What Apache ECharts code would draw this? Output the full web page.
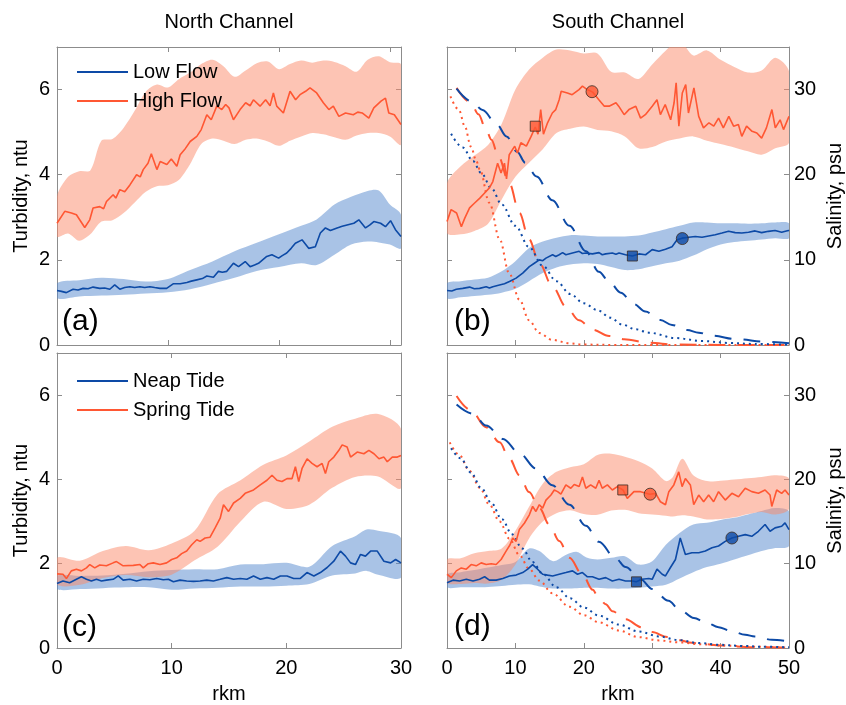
<!DOCTYPE html>
<html>
<head>
<meta charset="utf-8">
<script src="https://cdn.jsdelivr.net/npm/echarts@6/dist/echarts.min.js"></script>
<style>
  html, body { margin: 0; background: #fff; }
  #chart { width: 846px; height: 705px; }
</style>
</head>
<body>
<div id="chart"></div>
<script>
// ---------- data (rkm, turbidity ntu) / (rkm, lower, upper) / (rkm, salinity psu) ----------
// (a) North Channel, low / high flow
const aLowMean = [[0,1.28],[0.4,1.26],[0.84,1.23],[1.45,1.31],[1.9,1.29],[2.35,1.33],[2.8,1.32],[3.25,1.36],[3.86,1.33],[4.3,1.34],[4.76,1.31],[5.2,1.41],[5.66,1.31],[6.1,1.35],[6.57,1.37],[7.0,1.35],[7.47,1.37],[7.9,1.35],[8.37,1.37],[8.8,1.35],[9.28,1.33],[9.88,1.33],[10.5,1.44],[11.1,1.44],[11.7,1.47],[12.1,1.5],[12.6,1.53],[13.1,1.56],[13.5,1.62],[14.1,1.59],[14.55,1.73],[14.9,1.71],[15.3,1.73],[15.9,1.92],[16.36,1.84],[16.96,1.96],[17.4,1.84],[17.8,1.88],[18.16,1.92],[18.9,2.08],[19.37,2.12],[19.97,2.04],[20.3,2.1],[20.7,2.16],[21.1,2.27],[21.48,2.39],[22.08,2.47],[22.68,2.27],[23.28,2.31],[23.73,2.63],[24.19,2.75],[24.64,2.69],[25.24,2.75],[25.7,2.79],[26.14,2.82],[26.75,2.86],[27.2,2.94],[27.8,2.75],[28.2,2.82],[28.55,2.9],[29.16,2.86],[29.6,2.78],[30.06,2.92],[30.5,2.71],[31,2.55]];
const aLowBand = [[0,1.1,1.45],[2,1.14,1.52],[4,1.16,1.58],[6,1.18,1.55],[8,1.21,1.49],[10,1.24,1.55],[12,1.31,1.76],[14,1.44,1.96],[16,1.58,2.2],[18,1.74,2.4],[20,1.83,2.6],[22,1.92,2.8],[23.4,1.88,2.95],[25,2.12,3.3],[26.5,2.36,3.48],[28,2.43,3.62],[29,2.41,3.63],[30,2.36,3.3],[31,2.27,3.06]];
const aHighMean = [[0,2.86],[0.7,3.14],[1.3,3.1],[1.75,3.06],[2.5,2.76],[2.95,2.94],[3.25,3.22],[3.85,3.25],[4.2,3.2],[4.46,3.37],[5.06,3.53],[5.3,3.45],[5.66,3.65],[6.1,3.6],[6.57,3.76],[7.17,4.0],[7.5,3.95],[7.77,4.12],[8.2,4.27],[8.5,4.49],[9.0,4.12],[9.3,4.31],[9.9,4.24],[10.3,4.37],[10.8,4.2],[11.1,4.47],[11.5,4.59],[12.0,4.78],[12.6,4.9],[13.0,5.06],[13.5,5.41],[13.9,5.29],[14.4,5.61],[14.85,5.53],[15.2,5.65],[15.5,5.57],[15.9,5.29],[16.5,5.53],[17.0,5.69],[17.4,5.62],[17.7,5.76],[18.3,5.61],[18.8,5.76],[19.2,5.62],[19.5,5.92],[19.8,5.61],[20.4,5.45],[21.0,5.96],[21.5,5.76],[21.9,5.88],[22.4,5.96],[22.8,6.04],[23.4,5.92],[24.0,5.69],[24.5,5.53],[24.9,5.61],[25.4,5.37],[26.0,5.45],[26.7,5.41],[27.1,5.47],[27.5,5.45],[28.1,5.33],[28.55,5.57],[29.2,5.73],[29.6,5.8],[29.9,5.45],[30.4,5.41],[31,5.18]];
const aHighBand = [[0,2.55,3.49],[1,2.62,3.95],[2,2.45,4.08],[3,2.6,4.1],[4,2.9,4.8],[5,2.93,4.84],[6,3.1,5.1],[7,3.35,5.5],[8,3.6,5.95],[9,3.73,6.12],[10,3.75,6.05],[11,3.88,6.25],[12,4.25,6.4],[13,4.72,6.6],[14,4.85,6.7],[15,4.8,6.55],[16,4.72,6.3],[17,4.82,6.45],[18,4.85,6.62],[19,4.78,6.66],[20,4.68,6.48],[21,4.8,6.6],[22,4.9,6.68],[23,4.98,6.63],[24,4.95,6.68],[25,4.88,6.65],[26,4.82,6.55],[27,4.92,6.42],[28,4.98,6.7],[29,4.98,6.78],[30,4.9,6.64],[31,4.71,6.59]];

// (b) South Channel, low / high flow
const bLowMean = [[0,1.28],[0.7,1.27],[1.36,1.31],[2.3,1.33],[3.3,1.36],[4.0,1.32],[4.76,1.33],[5.73,1.37],[6.2,1.34],[6.7,1.37],[7.67,1.41],[8.4,1.44],[9.13,1.49],[10.1,1.57],[11.07,1.69],[12.04,1.84],[12.77,1.92],[13.5,2.0],[14.0,1.98],[14.47,2.04],[15.44,2.12],[15.9,2.08],[16.4,2.12],[16.9,2.17],[17.38,2.12],[18.35,2.16],[19.32,2.2],[19.8,2.15],[20.3,2.16],[21.26,2.14],[22.23,2.17],[22.7,2.12],[23.2,2.14],[24.17,2.16],[24.7,2.13],[25.15,2.16],[26.1,2.12],[27.1,2.09],[28.06,2.14],[29.03,2.12],[30.0,2.24],[30.97,2.2],[31.94,2.25],[32.9,2.31],[33.64,2.47],[34.37,2.51],[35.34,2.53],[36.3,2.55],[37.28,2.53],[38.25,2.56],[39.22,2.59],[40.2,2.63],[41.17,2.67],[42.13,2.64],[43.1,2.63],[44.08,2.65],[45.05,2.68],[46.0,2.64],[47.0,2.67],[47.96,2.69],[48.93,2.65],[49.9,2.69],[50,2.68]];
const bLowBand = [[0,1.1,1.45],[2,1.12,1.5],[4,1.15,1.54],[6,1.18,1.58],[8,1.23,1.73],[10,1.32,1.97],[12,1.5,2.28],[14,1.69,2.43],[16,1.82,2.52],[18,1.89,2.58],[20,1.92,2.57],[22,1.9,2.55],[24,1.83,2.55],[26,1.76,2.55],[28,1.78,2.57],[30,1.85,2.64],[32,1.92,2.72],[34,1.98,2.8],[36,2.1,2.88],[38,2.25,2.88],[40,2.36,2.86],[42,2.42,2.86],[44,2.45,2.85],[46,2.48,2.86],[48,2.51,2.88],[50,2.51,2.86]];
const bHighMean = [[0,2.9],[0.6,3.18],[1.4,3.1],[2.1,2.78],[2.6,2.98],[3.3,3.22],[4.0,3.33],[4.8,3.45],[5.5,3.57],[6.2,3.69],[6.7,3.84],[7.4,4.27],[7.9,4.04],[8.4,4.27],[8.7,3.9],[9.1,4.47],[9.9,4.67],[10.3,4.51],[10.8,4.75],[11.6,4.67],[12.3,4.9],[12.9,5.12],[13.3,4.95],[13.7,5.53],[14.1,4.95],[14.7,5.22],[15.4,5.45],[15.9,5.53],[16.4,5.76],[16.7,5.96],[17.6,5.92],[18.3,5.88],[19.3,6.0],[19.8,6.08],[20.5,6.0],[21.3,5.94],[22.2,5.76],[23.0,5.61],[23.7,5.61],[24.7,5.69],[25.1,5.61],[25.9,5.41],[26.6,5.53],[27.6,5.61],[28.3,5.33],[29.0,5.41],[30.0,5.61],[30.7,5.76],[31.2,5.41],[31.9,5.65],[32.7,5.29],[33.2,5.69],[33.5,6.16],[33.9,5.14],[34.4,5.92],[34.9,6.12],[35.3,5.45],[36.1,6.04],[36.8,5.37],[37.5,5.1],[38.3,5.22],[39.0,5.14],[39.7,5.33],[40.4,5.1],[41.2,5.37],[41.9,5.14],[42.6,5.18],[43.1,4.9],[43.8,5.14],[44.6,5.02],[45.3,4.98],[46.0,4.86],[46.7,5.1],[47.5,5.53],[48.0,5.1],[48.7,5.29],[49.2,5.06],[50,5.37]];
const bHighBand = [[0,2.63,3.8],[2,2.6,4.2],[4,2.68,4.45],[6,2.85,4.7],[8,3.42,5.2],[10,3.95,6.0],[12,4.28,6.47],[14,4.6,6.75],[16,4.98,6.94],[18,5.08,6.92],[20,5.13,6.85],[22,5.05,6.85],[24,5.02,6.42],[26,4.9,6.4],[28,4.62,6.25],[30,4.65,6.59],[32,4.78,6.92],[34,4.85,7.15],[36,4.9,6.8],[38,4.8,6.92],[40,4.72,6.7],[42,4.64,6.53],[44,4.55,6.4],[46,4.47,6.45],[48,4.62,6.75],[50,4.75,6.43]];
const bSalHighDash = [[1.4,30.2],[3.45,28.5],[4.6,27.1],[5.7,25.3],[6.5,24.1],[7.5,22.15],[9.1,19.0],[10.6,15.5],[12,12.4],[13.5,9.6],[15.4,6.9],[17.4,4.5],[19.3,2.9],[21.3,1.8],[23.7,1.06],[25.9,0.67],[29.5,0.27],[33.4,0.05],[40,0.01],[50,0]];
const bSalHighDot = [[0.5,29.2],[1.75,27.6],[2.6,25.7],[3.5,23.3],[4.3,21.6],[4.8,20.6],[6.2,16.7],[7.7,12.4],[9.1,8.4],[10.6,5.3],[12,2.9],[13.5,1.4],[15.4,0.6],[17.9,0.2],[20,0.05],[25,0],[50,0]];
const bSalLowDash = [[1.4,30.1],[3.6,28.6],[5.2,27.6],[7.3,25.9],[8.7,24.5],[10.25,22.7],[11.45,21.4],[13.1,19.8],[15.4,17.0],[17.9,14.0],[20.3,11.0],[22.2,8.6],[23.7,7.45],[25.4,6.15],[27.3,4.82],[29,3.92],[31.2,2.94],[32.9,2.35],[35.1,1.76],[36.8,1.45],[38.7,1.1],[42.4,0.67],[46.5,0.39],[50,0.2]];
const bSalLowDot = [[0.6,24.8],[2.3,23.2],[3.8,21.6],[5,20.2],[6.5,18.4],[8,16.5],[10,14.0],[12,11.5],[14,9.3],[16,7.5],[18,6.0],[20,4.9],[22,4.1],[23.9,3.2],[25.6,2.4],[27.6,1.84],[29.5,1.45],[33.4,0.82],[37.3,0.47],[41.2,0.24],[45,0.12],[50,0.04]];
const bHighSquare = [12.9, 5.14];
const bHighCircle = [21.2, 5.95];
const bLowSquare = [27.1, 2.09];
const bLowCircle = [34.4, 2.5];

// (c) North Channel, neap / spring tide
const cNeapMean = [[0,1.53],[0.52,1.59],[1.1,1.55],[1.69,1.63],[2.13,1.69],[2.57,1.63],[3.0,1.59],[3.44,1.63],[3.88,1.59],[4.31,1.61],[4.9,1.63],[5.34,1.71],[5.77,1.61],[6.36,1.63],[6.94,1.59],[7.52,1.63],[8.1,1.62],[8.69,1.65],[9.27,1.62],[9.71,1.63],[10.15,1.57],[10.73,1.61],[11.31,1.59],[11.9,1.58],[12.48,1.59],[13.06,1.61],[13.64,1.59],[14.23,1.63],[14.81,1.67],[15.4,1.63],[15.98,1.65],[16.56,1.63],[17.14,1.71],[17.73,1.63],[18.31,1.67],[18.9,1.63],[19.48,1.71],[20.06,1.71],[20.64,1.65],[21.22,1.65],[21.8,1.79],[22.4,1.71],[22.97,1.79],[23.56,1.91],[24.14,2.06],[24.72,2.3],[25.16,2.18],[25.6,2.02],[26.03,1.98],[26.47,2.22],[26.9,2.18],[27.35,2.3],[27.93,2.3],[28.51,2.06],[29.1,2.02],[29.53,2.1],[30,2.02]];
const cNeapBand = [[0,1.4,1.71],[2,1.4,1.71],[4,1.42,1.72],[6,1.44,1.76],[8,1.44,1.82],[10,1.38,1.85],[12,1.41,1.87],[14,1.43,1.87],[16,1.46,1.98],[18,1.46,1.99],[20,1.48,2.02],[22,1.52,1.93],[24,1.72,2.42],[26,1.77,2.65],[27,1.83,2.81],[28,1.74,2.78],[30,1.67,2.61]];
const cSpringMean = [[0,1.76],[0.52,1.75],[0.82,1.65],[1.25,1.83],[1.69,1.87],[2.13,1.83],[2.57,1.9],[2.86,1.98],[3.29,1.9],[3.73,1.97],[4.31,1.95],[4.9,2.02],[5.19,2.05],[5.77,1.95],[6.65,1.96],[7.23,1.98],[7.52,1.9],[7.96,2.0],[8.4,2.02],[8.98,1.98],[9.56,2.02],[10.0,2.1],[10.44,2.14],[10.87,2.24],[11.31,2.3],[11.75,2.45],[12.19,2.57],[12.48,2.53],[12.92,2.61],[13.35,2.63],[13.79,2.85],[14.23,3.08],[14.52,3.4],[14.96,3.24],[15.4,3.44],[15.98,3.55],[16.41,3.67],[17.14,3.75],[17.73,3.87],[18.31,3.98],[18.75,4.1],[19.18,3.98],[19.62,3.95],[20.06,4.02],[20.5,4.02],[20.79,4.3],[21.08,3.95],[21.37,4.26],[21.81,4.49],[22.24,4.38],[22.68,4.3],[23.12,4.38],[23.41,4.14],[23.7,4.42],[24.14,4.53],[24.58,4.69],[24.87,4.82],[25.3,4.77],[25.6,4.53],[26.18,4.65],[26.76,4.61],[27.2,4.69],[27.64,4.61],[28.08,4.49],[28.51,4.53],[28.8,4.42],[29.24,4.53],[29.68,4.53],[30,4.57]];
const cSpringBand = [[0,1.51,2.14],[2,1.5,2.07],[4,1.66,2.3],[6,1.73,2.42],[8,1.68,2.32],[10,1.74,2.48],[12,2.08,2.78],[14,2.4,3.65],[16,3.0,3.98],[18,3.47,4.35],[20,3.3,4.57],[22,3.4,4.9],[24,3.8,5.25],[26,4.06,5.44],[28,4.07,5.55],[30,3.79,5.2]];

// (d) South Channel, neap / spring tide
const dNeapMean = [[0,1.55],[0.87,1.61],[1.84,1.59],[2.82,1.63],[3.8,1.59],[4.76,1.63],[5.5,1.69],[6.2,1.61],[7.18,1.61],[8.16,1.65],[9.13,1.71],[10.1,1.73],[11.07,1.79],[11.8,1.87],[12.52,1.98],[13.25,1.87],[13.98,1.75],[14.7,1.73],[15.44,1.71],[16.4,1.75],[17.38,1.79],[18.35,1.83],[19.08,1.75],[19.8,1.79],[20.53,1.69],[21.26,1.69],[22.23,1.63],[23.2,1.67],[24.17,1.59],[25.15,1.63],[26.1,1.59],[27.1,1.59],[27.67,1.57],[28.5,1.63],[29.5,1.65],[30.0,1.63],[30.7,1.87],[31.46,1.75],[31.94,1.71],[32.67,1.91],[33.4,2.1],[34.1,2.61],[34.85,2.22],[35.8,2.26],[36.8,2.26],[37.77,2.3],[38.74,2.38],[39.7,2.42],[40.68,2.53],[41.65,2.61],[42.62,2.65],[43.6,2.69],[44.56,2.65],[45.53,2.77],[46.5,2.93],[47.23,2.77],[47.96,2.85],[48.93,2.89],[49.42,2.97],[50,2.81]];
const dNeapBand = [[0,1.44,1.75],[2,1.44,1.8],[4,1.44,1.85],[6,1.45,1.91],[8,1.47,1.97],[10,1.5,2.04],[12,1.51,2.36],[13.5,1.46,2.3],[15.5,1.41,2.06],[17.5,1.41,2.22],[19,1.42,2.28],[20.5,1.43,2.14],[22,1.43,2.1],[24,1.41,2.14],[26,1.41,2.18],[28,1.43,1.98],[30,1.46,2.06],[32,1.5,2.45],[34,1.65,2.73],[36,1.8,2.93],[38,1.92,2.97],[40,2.0,3.04],[42,2.1,3.09],[44,2.2,3.17],[46,2.3,3.25],[48,2.37,3.32],[50,2.42,3.24]];
const dSpringMean = [[0,1.75],[0.63,1.67],[1.36,1.83],[2.09,1.9],[2.82,1.87],[3.54,1.98],[4.27,1.95],[5.0,2.02],[5.73,1.98],[6.46,2.0],[7.18,1.98],[7.91,2.1],[8.64,2.3],[9.22,2.45],[9.61,2.61],[10.1,2.53],[10.58,2.81],[11.31,2.96],[12.04,3.16],[12.52,3.36],[13.0,3.24],[13.5,3.4],[13.98,3.32],[14.47,3.51],[15.2,3.63],[15.68,3.75],[16.17,3.71],[16.65,3.65],[17.38,3.87],[18.1,3.79],[18.6,3.88],[19.32,3.83],[19.8,4.06],[20.3,3.79],[21.0,3.87],[21.75,3.79],[22.23,3.98],[22.7,3.79],[23.45,3.87],[24.17,3.75],[24.9,3.83],[25.73,3.75],[26.36,3.55],[27.33,3.71],[28.3,3.71],[29.66,3.65],[30.5,3.67],[31.2,3.47],[31.94,3.4],[32.43,3.71],[33.16,3.87],[33.88,4.18],[34.37,3.83],[34.85,4.02],[35.58,3.87],[36.07,3.4],[36.8,3.63],[37.52,3.47],[38.25,3.63],[38.98,3.47],[39.7,3.71],[40.68,3.51],[41.65,3.67],[42.62,3.59],[43.6,3.79],[44.56,3.71],[45.53,3.67],[46.5,3.75],[47.23,3.63],[47.48,3.36],[48.2,3.75],[48.93,3.67],[49.42,3.75],[50,3.63]];
const dSpringBand = [[0,1.55,2.1],[2,1.52,2.13],[4,1.54,2.25],[6,1.53,2.3],[8,1.62,2.36],[10,1.98,2.78],[12,2.6,3.35],[14,3.0,3.9],[16,3.2,4.18],[18,3.27,4.29],[20,3.18,4.36],[22,3.16,4.58],[24,3.26,4.61],[26,3.28,4.54],[28,3.2,4.43],[30,3.17,4.26],[32,3.14,3.96],[33,3.12,4.05],[34.4,3.15,4.49],[36,3.12,4.1],[38,3.05,3.96],[40,3.06,3.97],[42,3.1,4.0],[44,3.18,4.03],[46,3.23,4.06],[48,3.17,4.1],[50,3.3,4.02]];
const dSalSpringDash = [[1.4,29.9],[3.5,28.2],[5.7,26.2],[7.7,24.4],[9.1,22.5],[10.6,20.5],[12,18.5],[13.5,16.6],[15,14.6],[16.4,12.7],[17.9,10.7],[19.8,8.7],[21.3,6.9],[22.2,5.9],[23.2,5.2],[24.2,4.35],[26.1,3.4],[28.5,2.45],[30,1.9],[32.2,1.3],[33.9,0.92],[35.8,0.62],[37.5,0.46],[39.9,0.3],[44.6,0.1],[50,0.04]];
const dSalSpringDot = [[0.4,24.4],[1.8,22.9],[3.3,21.0],[4.8,19.0],[6.2,17.0],[7.7,15.0],[9.1,13.0],[10.6,11.0],[12,9.4],[13.5,8.0],[15.4,6.5],[17.9,4.9],[20,3.9],[22.2,3.06],[25.1,2.08],[28,1.29],[31,0.9],[33.9,0.67],[37,0.45],[40,0.3],[45,0.15],[50,0.05]];
const dSalNeapDash = [[1.4,28.9],[3.8,27.8],[5.7,26.4],[8.2,24.8],[10.6,23.1],[13,21.3],[15.4,19.3],[17.9,17.0],[20.3,14.5],[22.2,12.6],[24.7,10.6],[26.1,9.6],[28.3,8.15],[30,7.0],[32.4,5.6],[33.9,4.62],[36.1,3.57],[37.8,3.06],[39.7,2.47],[41.4,2.08],[43.6,1.57],[45,1.37],[47.5,0.98],[50,0.78]];
const dSalNeapDot = [[0.6,23.7],[2,22.5],[3.5,20.8],[5,19.0],[6.5,17.2],[8,15.3],[9.5,13.5],[11,11.8],[12.5,10.2],[14,8.8],[16,7.2],[18,5.9],[20,4.8],[22.2,3.84],[25.1,2.78],[28,1.96],[31,1.37],[33.9,0.94],[36.8,0.59],[39.7,0.39],[43,0.25],[46,0.15],[50,0.08]];
const dSpringSquare = [25.7, 3.75];
const dSpringCircle = [29.7, 3.65];
const dNeapSquare = [27.7, 1.57];
const dNeapCircle = [41.65, 2.61];

const turbTicks = [0, 7, 2];   // min, max, interval
const salTicks = [0, 35, 10];

// ---------- styling ----------
const FONT = '"Liberation Sans", Arial, sans-serif';
const GRAY = '#8c8c8c';
const BLUE = '#0d4aa6';
const RED = '#ff5733';
const BLUE_FILL = 'rgba(83,135,205,0.5)';
const RED_FILL = 'rgba(251,137,105,0.5)';
const DASH = [17, 12];
const DOT = [2, 4];

const chart = echarts.init(document.getElementById('chart'));

const grids = [
  { left: 57, top: 47, width: 344, height: 298 },
  { left: 447, top: 47, width: 344, height: 298 },
  { left: 57, top: 353, width: 344, height: 298 },
  { left: 447, top: 353, width: 344, height: 298 }
];

function axis(extra, labels) {
  const a = {
    axisLine: { show: true, onZero: false, lineStyle: { color: GRAY, width: 1 } },
    axisTick: { show: true, inside: true, length: 5, lineStyle: { color: GRAY } },
    splitLine: { show: false },
    axisLabel: labels
      ? Object.assign({ color: '#000', fontSize: 20, fontFamily: FONT }, labels)
      : { show: false },
    nameTextStyle: { color: '#000', fontSize: 20, fontFamily: FONT }
  };
  return Object.assign(a, extra);
}

function xPair(grid, max, labelled) {
  const base = { type: 'value', gridIndex: grid, min: 0, max: max, interval: 10 };
  const bottom = axis(Object.assign({ position: 'bottom' }, base),
    labelled ? { margin: 10, showMinLabel: true, showMaxLabel: true } : null);
  if (labelled) {
    bottom.name = 'rkm';
    bottom.nameLocation = 'middle';
    bottom.nameGap = 36;
  }
  const top = axis(Object.assign({ position: 'top' }, base), null);
  return [bottom, top];
}

function yTurb(grid, labelled) {
  const ax = axis({ type: 'value', gridIndex: grid, position: 'left',
    min: turbTicks[0], max: turbTicks[1], interval: turbTicks[2] },
    labelled ? { margin: 7, showMaxLabel: false } : null);
  if (labelled) {
    ax.name = 'Turbidity, ntu';
    ax.nameLocation = 'middle';
    ax.nameGap = 26;
  }
  return ax;
}

function yRight(grid, salinity) {
  if (!salinity) {
    return axis({ type: 'value', gridIndex: grid, position: 'right',
      min: turbTicks[0], max: turbTicks[1], interval: turbTicks[2] }, null);
  }
  const ax = axis({ type: 'value', gridIndex: grid, position: 'right',
    min: salTicks[0], max: salTicks[1], interval: salTicks[2] },
    { margin: 5, showMaxLabel: false });
  ax.name = 'Salinity, psu';
  ax.nameLocation = 'middle';
  ax.nameGap = 36;
  return ax;
}

const xAxes = [].concat(xPair(0, 31, false), xPair(1, 50, false), xPair(2, 30, true), xPair(3, 50, true));
const yAxes = [
  yTurb(0, true), yRight(0, false),
  yTurb(1, false), yRight(1, true),
  yTurb(2, true), yRight(2, false),
  yTurb(3, false), yRight(3, true)
];

// shaded envelope between lower and upper, drawn as one polygon through the axes' scales
function band(rows, xi, yi, fill) {
  return {
    type: 'custom', xAxisIndex: xi, yAxisIndex: yi, silent: true, z: 1,
    data: [rows[0]],
    encode: { x: 0, y: [1, 2] },
    renderItem: function (params, api) {
      const top = rows.map(r => api.coord([r[0], r[2]]));
      const bot = rows.map(r => api.coord([r[0], r[1]])).reverse();
      const cs = params.coordSys;
      return {
        type: 'polygon',
        shape: { points: top.concat(bot), smooth: 0.3 },
        style: { fill: fill },
        clipPath: { type: 'rect', shape: { x: cs.x, y: cs.y, width: cs.width, height: cs.height } }
      };
    }
  };
}

function mean(name, data, xi, yi, color) {
  return { type: 'line', name: name, xAxisIndex: xi, yAxisIndex: yi, data: data,
    symbol: 'none', color: color, silent: true, z: 3,
    lineStyle: { color: color, width: 1.6 }, itemStyle: { color: color } };
}

function sal(data, xi, yi, color, dash) {
  return { type: 'line', xAxisIndex: xi, yAxisIndex: yi, data: data,
    symbol: 'none', smooth: 0.35, smoothMonotone: 'x', silent: true, z: 2,
    lineStyle: { color: color, width: 2, type: dash, cap: 'butt' } };
}

function marker(pt, xi, yi, shape, color) {
  return { type: 'scatter', xAxisIndex: xi, yAxisIndex: yi, data: [pt], silent: true, z: 5,
    symbol: shape, symbolSize: shape === 'rect' ? 10 : 12,
    itemStyle: { color: color, borderColor: '#3a2a22', borderWidth: 1 } };
}

const series = [
  // (a)
  band(aLowBand, 0, 0, BLUE_FILL),
  band(aHighBand, 0, 0, RED_FILL),
  mean('Low Flow', aLowMean, 0, 0, BLUE),
  mean('High Flow', aHighMean, 0, 0, RED),
  // (b)
  band(bLowBand, 2, 2, BLUE_FILL),
  band(bHighBand, 2, 2, RED_FILL),
  sal(bSalHighDash, 2, 3, RED, DASH),
  sal(bSalHighDot, 2, 3, RED, DOT),
  sal(bSalLowDash, 2, 3, BLUE, DASH),
  sal(bSalLowDot, 2, 3, BLUE, DOT),
  mean('Low Flow b', bLowMean, 2, 2, BLUE),
  mean('High Flow b', bHighMean, 2, 2, RED),
  marker(bHighSquare, 2, 2, 'rect', RED),
  marker(bHighCircle, 2, 2, 'circle', RED),
  marker(bLowSquare, 2, 2, 'rect', BLUE),
  marker(bLowCircle, 2, 2, 'circle', BLUE),
  // (c)
  band(cNeapBand, 4, 4, BLUE_FILL),
  band(cSpringBand, 4, 4, RED_FILL),
  mean('Neap Tide', cNeapMean, 4, 4, BLUE),
  mean('Spring Tide', cSpringMean, 4, 4, RED),
  // (d)
  band(dNeapBand, 6, 6, BLUE_FILL),
  band(dSpringBand, 6, 6, RED_FILL),
  sal(dSalSpringDash, 6, 7, RED, DASH),
  sal(dSalSpringDot, 6, 7, RED, DOT),
  sal(dSalNeapDash, 6, 7, BLUE, DASH),
  sal(dSalNeapDot, 6, 7, BLUE, DOT),
  mean('Neap Tide d', dNeapMean, 6, 6, BLUE),
  mean('Spring Tide d', dSpringMean, 6, 6, RED),
  marker(dSpringSquare, 6, 6, 'rect', RED),
  marker(dSpringCircle, 6, 6, 'circle', RED),
  marker(dNeapSquare, 6, 6, 'rect', BLUE),
  marker(dNeapCircle, 6, 6, 'circle', BLUE)
];

function legend(names, top) {
  return {
    data: names, orient: 'vertical', left: 77, top: top, padding: 0,
    itemWidth: 51, itemHeight: 2, itemGap: 9, icon: 'rect', selectedMode: false,
    textStyle: { color: '#000', fontSize: 20, fontFamily: FONT }
  };
}

function label(text, x, y, size) {
  return { type: 'text', x: x, y: y, silent: true, z: 10,
    style: { text: text, fill: '#000', font: size + 'px ' + FONT,
      textAlign: size > 24 ? 'left' : 'center', textVerticalAlign: 'middle',
      align: size > 24 ? 'left' : 'center', verticalAlign: 'middle' } };
}

chart.setOption({
  animation: false,
  grid: grids,
  xAxis: xAxes,
  yAxis: yAxes,
  legend: [legend(['Low Flow', 'High Flow'], 62), legend(['Neap Tide', 'Spring Tide'], 371)],
  graphic: [
    label('North Channel', 229, 22, 20),
    label('South Channel', 618, 22, 20),
    label('(a)', 62, 322, 30),
    label('(b)', 454, 322, 30),
    label('(c)', 62, 628, 30),
    label('(d)', 454, 627, 30)
  ],
  series: series
});
</script>
</body>
</html>
